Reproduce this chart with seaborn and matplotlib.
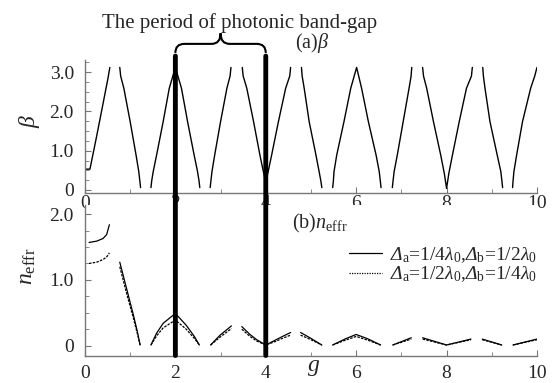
import numpy as np
import pandas as pd
import matplotlib
matplotlib.use("Agg")
import matplotlib.pyplot as plt
import seaborn as sns
from matplotlib.patches import ConnectionPatch, PathPatch
from matplotlib.path import Path
from matplotlib.lines import Line2D
from matplotlib.ticker import MultipleLocator

# (a) beta vs g, one segment id per allowed band
top_g = [0.02, 0.11, 0.25, 0.40, 0.51, 0.55,
         0.77, 0.79, 0.86, 1.00, 1.13, 1.19, 1.215, 1.23,
         1.46, 1.475, 1.51, 1.585, 1.73, 1.865, 2.00, 2.135, 2.27, 2.415, 2.49, 2.525, 2.54,
         2.77, 2.785, 2.81, 2.87, 3.00, 3.14, 3.21, 3.23,
         3.48, 3.50, 3.58, 3.73, 3.87, 3.95, 4.00, 4.05, 4.13, 4.28, 4.44, 4.53, 4.55,
         4.79, 4.805, 4.85, 4.96, 5.11, 5.18, 5.22, 5.24,
         5.48, 5.495, 5.51, 5.57, 5.73, 5.88, 6.01, 6.12, 6.27, 6.44, 6.51, 6.535, 6.55,
         6.80, 6.815, 6.84, 6.91, 7.04, 7.17, 7.215, 7.23,
         7.47, 7.49, 7.56, 7.71, 7.87, 7.95, 8.00, 8.05, 8.13, 8.28, 8.44, 8.55, 8.57,
         8.80, 8.815, 8.85, 8.96, 9.12, 9.20, 9.225, 9.24,
         9.46, 9.47, 9.49, 9.55, 9.68, 9.86, 9.95, 10.0]
top_beta = [0.53, 0.53, 1.32, 2.20, 2.85, 3.12,
            3.12, 2.90, 2.59, 1.74, 0.89, 0.47, 0.22, 0.06,
            0.06, 0.22, 0.47, 0.89, 1.74, 2.59, 3.12, 2.59, 1.74, 0.89, 0.47, 0.22, 0.06,
            0.06, 0.22, 0.47, 0.89, 1.74, 2.59, 2.90, 3.12,
            3.12, 2.90, 2.59, 1.74, 0.89, 0.45, 0.20, 0.45, 0.89, 1.74, 2.59, 2.90, 3.12,
            3.12, 2.90, 2.59, 1.74, 0.89, 0.47, 0.22, 0.06,
            0.06, 0.22, 0.47, 0.89, 1.74, 2.59, 3.12, 2.59, 1.74, 0.89, 0.47, 0.22, 0.06,
            0.06, 0.22, 0.47, 0.89, 1.74, 2.59, 2.90, 3.12,
            3.12, 2.90, 2.59, 1.74, 0.89, 0.42, 0.04, 0.42, 0.89, 1.74, 2.59, 2.90, 3.12,
            3.12, 2.90, 2.59, 1.74, 0.89, 0.47, 0.22, 0.06,
            0.06, 0.22, 0.47, 0.89, 1.74, 2.59, 2.90, 3.12]
top_seg = [1] * 6 + [2] * 8 + [3] * 13 + [4] * 8 + [5] * 13 + [6] * 8 + \
          [7] * 13 + [8] * 8 + [9] * 13 + [10] * 8 + [11] * 8

# (b) n_effr vs g for the two layer configurations
bot_g = [0.09, 0.26, 0.40, 0.48, 0.54,
         0.77, 0.92, 1.07, 1.16, 1.22,
         1.46, 1.585, 1.73, 2.00, 2.24, 2.42, 2.53,
         2.78, 2.99, 3.24,
         3.47, 3.65, 3.80, 4.00, 4.20, 4.40, 4.55,
         4.77, 5.00, 5.24,
         5.48, 5.75, 6.00, 6.27, 6.54,
         6.81, 7.22,
         7.47, 8.00, 8.54,
         8.79, 9.22,
         9.47, 10.0]
n_case1 = [1.57, 1.59, 1.63, 1.69, 1.84,
           1.27, 0.87, 0.47, 0.21, 0.01,
           0.01, 0.19, 0.34, 0.49, 0.31, 0.14, 0.01,
           0.01, 0.16, 0.30,
           0.29, 0.17, 0.09, 0.01, 0.08, 0.15, 0.20,
           0.20, 0.11, 0.01,
           0.01, 0.10, 0.17, 0.10, 0.01,
           0.01, 0.12,
           0.12, 0.01, 0.10,
           0.10, 0.01,
           0.01, 0.10]
n_case2 = [1.25, 1.27, 1.31, 1.35, 1.41,
           1.20, 0.80, 0.42, 0.18, 0.01,
           0.01, 0.15, 0.27, 0.39, 0.25, 0.11, 0.01,
           0.01, 0.13, 0.26,
           0.25, 0.14, 0.07, 0.01, 0.06, 0.12, 0.16,
           0.16, 0.09, 0.01,
           0.01, 0.08, 0.14, 0.08, 0.01,
           0.01, 0.10,
           0.10, 0.01, 0.09,
           0.09, 0.01,
           0.01, 0.09]
bot_seg = [1] * 5 + [2] * 5 + [3] * 7 + [4] * 3 + [5] * 7 + [6] * 3 + \
          [7] * 5 + [8] * 2 + [9] * 3 + [10] * 2 + [11] * 2

# \mathsf is mapped to the italic serif so the capital Delta comes out slanted
case_labels = [r'$\mathsf{Δ}_\mathrm{a}$=1/4$λ_0$,$\mathsf{Δ}_\mathrm{b}$=1/2$λ_0$',
               r'$\mathsf{Δ}_\mathrm{a}$=1/2$λ_0$,$\mathsf{Δ}_\mathrm{b}$=1/4$λ_0$']

sns.set_style("ticks")
plt.rcParams['font.family'] = ['Liberation Serif', 'DejaVu Serif']
plt.rcParams['mathtext.fontset'] = 'custom'
plt.rcParams['mathtext.rm'] = 'Liberation Serif'
plt.rcParams['mathtext.it'] = 'Liberation Serif:italic'
plt.rcParams['mathtext.sf'] = 'Liberation Serif:italic'

top_df = pd.DataFrame({'g': top_g, 'beta': top_beta, 'seg': top_seg})
bot_df = pd.concat([
    pd.DataFrame({'g': bot_g, 'n': n_case1, 'seg': bot_seg, 'case': 'c1'}),
    pd.DataFrame({'g': bot_g, 'n': n_case2, 'seg': bot_seg, 'case': 'c2'}),
])

fig = plt.figure(figsize=(5.59, 3.83), dpi=100)
ax1 = fig.add_axes([0.152, 0.4948, 0.8086, 0.3486])
ax2 = fig.add_axes([0.152, 0.0718, 0.8086, 0.393])

sns.lineplot(data=top_df, x='g', y='beta', units='seg', estimator=None,
             sort=False, color='black', lw=1.0, ax=ax1)
sns.lineplot(data=bot_df, x='g', y='n', units='seg', estimator=None, sort=False,
             style='case', dashes={'c1': '', 'c2': (2, 1)}, color='black',
             lw=0.9, ax=ax2, legend=False)

spine_col = '#777777'
for ax in (ax1, ax2):
    ax.set_xlim(0, 10)
    ax.spines['top'].set_visible(False)
    ax.spines['right'].set_visible(False)
    for s in ('left', 'bottom'):
        ax.spines[s].set_color(spine_col)
        ax.spines[s].set_linewidth(1.0)
    ax.xaxis.set_major_locator(MultipleLocator(2))
    ax.xaxis.set_minor_locator(MultipleLocator(1))
    ax.yaxis.set_major_locator(MultipleLocator(1))
    ax.yaxis.set_minor_locator(MultipleLocator(0.25))
    ax.tick_params(which='both', direction='in', color=spine_col, labelsize=14)
    ax.tick_params(which='major', length=4)
    ax.tick_params(which='minor', length=3)
    ax.tick_params(axis='y', pad=8)
    ax.set_xlabel('')
    ax.set_ylabel('')

ax1.set_ylim(-0.09, 3.31)
ax2.set_ylim(-0.15, 2.14)
ax1.set_yticks([0, 1, 2, 3], ['0', '1.0', '2.0', '3.0'])
ax2.set_yticks([0, 1, 2], ['0', '1.0', '2.0'])
ax1.tick_params(axis='x', pad=1)
ax2.tick_params(axis='x', pad=7)

ax1.set_ylabel(r'$β$', fontsize=17)
ax1.yaxis.set_label_coords(-0.095, 0.54)
ax2.set_ylabel(r'$n_{\mathrm{effr}}$', fontsize=17)
ax2.yaxis.set_label_coords(-0.105, 0.59)
ax2.set_xlabel(r'$g$', fontsize=17)
ax2.xaxis.set_label_coords(0.505, -0.01)

ax1.text(4.65, 3.62, r'(a)$β$', fontsize=14.5, clip_on=False)
ax2.text(4.58, 1.79, r'(b)$n_{\mathrm{effr}}$', fontsize=14.5)

handles = [Line2D([], [], color='black', lw=0.9),
           Line2D([], [], color='black', lw=0.9, dashes=(1, 1))]
ax2.legend(handles, case_labels, loc='upper right', bbox_to_anchor=(1.0, 0.735),
           frameon=False, fontsize=14, handlelength=1.7, handletextpad=0.4,
           labelspacing=0.0, borderpad=0, borderaxespad=0)

# thick markers of the band-gap period
for gx in (2, 4):
    con = ConnectionPatch(xyA=(gx, 3.41), coordsA=ax1.transData,
                          xyB=(gx, -0.15), coordsB=ax2.transData,
                          color='black', lw=3.5, zorder=10)
    fig.add_artist(con)

# curly brace over the period
y0, y1, y2 = 3.49, 3.72, 3.99
verts = [(2, y0), (2, y1), (2.2, y1), (2.8, y1), (3.0, y1), (3.0, y2),
         (3.0, y1), (3.2, y1), (3.8, y1), (4.0, y1), (4.0, y0)]
codes = [Path.MOVETO, Path.CURVE3, Path.CURVE3, Path.LINETO, Path.CURVE3, Path.CURVE3,
         Path.CURVE3, Path.CURVE3, Path.LINETO, Path.CURVE3, Path.CURVE3]
ax1.add_patch(PathPatch(Path(verts, codes), fill=False, lw=1.5, color='black',
                        clip_on=False))

fig.text(0.429, 0.940, 'The period of photonic band-gap', fontsize=15,
         ha='center', va='center')

fig.savefig('out.png', dpi=100)
